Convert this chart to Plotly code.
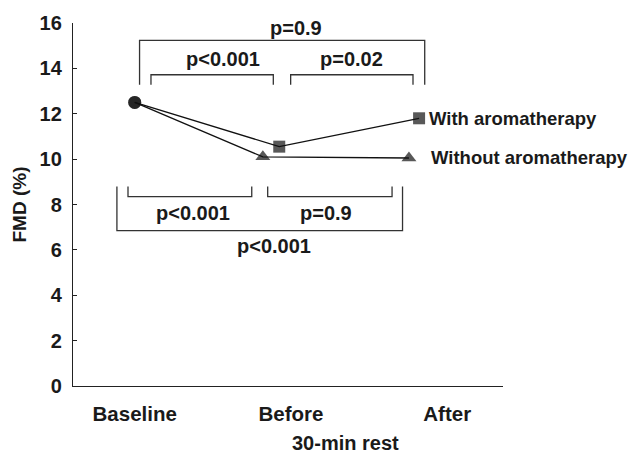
import plotly.graph_objects as go

# ---- data ----
categories = ["Baseline", "Before", "After"]
category_pos = [0, 1, 2]
with_x = [0, 0.925, 1.82]
with_y = [12.5, 10.55, 11.8]
without_x = [0, 0.82, 1.755]
without_y = [12.5, 10.1, 10.05]
series_names = ["With aromatherapy", "Without aromatherapy"]
y_ticks = [0, 2, 4, 6, 8, 10, 12, 14, 16]

# comparison brackets: (x0, x1, y_bar, y_end, label, label_x, label_y)
top_brackets = [
    (0.031, 1.856, 15.23, 13.28, "p=0.9", 1.031, 15.8),
    (0.104, 0.887, 13.72, 13.28, "p<0.001", 0.568, 14.42),
    (0.998, 1.781, 13.72, 13.28, "p=0.02", 1.388, 14.42),
]
bottom_brackets = [
    (-0.043, 0.749, 8.35, 8.79, "p<0.001", 0.371, 7.63),
    (0.851, 1.647, 8.35, 8.79, "p=0.9", 1.226, 7.63),
    (-0.114, 1.714, 6.85, 8.79, "p<0.001", 0.893, 6.18),
]

FONT = "Arial, Liberation Sans, Helvetica, sans-serif"
TXT = "#1a1a1a"

fig = go.Figure()
fig.add_trace(go.Scatter(
    x=with_x, y=with_y, mode="lines+markers", name=series_names[0],
    line=dict(color="#111", width=1.3),
    marker=dict(symbol=["circle", "square", "square"], size=[13, 12, 12], color="#111",
                line=dict(width=0)),
    showlegend=False,
))
fig.add_trace(go.Scatter(
    x=without_x, y=without_y, mode="lines+markers", name=series_names[1],
    line=dict(color="#111", width=1.3),
    marker=dict(symbol=["circle", "triangle-up", "triangle-up"], size=[13, 13, 13], color="#111",
                line=dict(width=0)),
    showlegend=False,
))

shapes = []
annotations = []
for (x0, x1, yb, ye, lab, lx, ly) in top_brackets + bottom_brackets:
    shapes.append(dict(type="path", xref="x", yref="y",
                       path=f"M {x0},{ye} L {x0},{yb} L {x1},{yb} L {x1},{ye}",
                       line=dict(color="#333", width=1.3)))
    annotations.append(dict(x=lx, y=ly, xref="x", yref="y", text=f"<b>{lab}</b>",
                            showarrow=False, font=dict(family=FONT, size=20, color=TXT),
                            xanchor="center", yanchor="middle"))

# series labels next to last points
annotations.append(dict(x=with_x[-1], y=with_y[-1], xref="x", yref="y",
                        text=f"<b>{series_names[0]}</b>", showarrow=False, xanchor="left",
                        yanchor="middle", xshift=8, font=dict(family=FONT, size=18.5, color=TXT)))
annotations.append(dict(x=without_x[-1], y=without_y[-1], xref="x", yref="y",
                        text=f"<b>{series_names[1]}</b>", showarrow=False, xanchor="left",
                        yanchor="middle", xshift=20, font=dict(family=FONT, size=18.5, color=TXT)))
# axis titles
annotations.append(dict(x=1.35, y=0, xref="x", yref="paper", text="<b>30-min rest</b>",
                        showarrow=False, xanchor="center", yanchor="bottom", yshift=-70,
                        font=dict(family=FONT, size=20, color=TXT)))
annotations.append(dict(x=0, y=8, xref="paper", yref="y", text="<b>FMD (%)</b>",
                        showarrow=False, textangle=-90, xanchor="center", yanchor="middle",
                        xshift=-54, font=dict(family=FONT, size=19, color=TXT)))

fig.update_layout(
    width=630, height=456,
    margin=dict(l=73, r=127, t=23, b=70, autoexpand=False),
    paper_bgcolor="white", plot_bgcolor="white",
    shapes=shapes, annotations=annotations,
    font=dict(family=FONT, color=TXT),
)
fig.update_xaxes(
    range=[-0.395, 2.357], tickvals=category_pos,
    ticktext=[f"<b>{c}</b>" for c in categories],
    showline=True, linecolor="#222", linewidth=1.3, ticks="",
    showgrid=False, zeroline=False, tickfont=dict(family=FONT, size=20.5, color=TXT),
    ticklabelstandoff=9,
)
fig.update_yaxes(
    range=[0, 16], tickvals=y_ticks, ticktext=[f"<b>{v}</b>" for v in y_ticks],
    showline=True, linecolor="#222", linewidth=1.3, ticks="inside", ticklen=4,
    tickcolor="#222", showgrid=False, zeroline=False,
    tickfont=dict(family=FONT, size=20, color=TXT), ticklabelstandoff=6,
)

fig.write_html("out.html", config={"displayModeBar": False},
               post_script="document.body.style.margin='0';document.body.style.overflow='hidden';")
